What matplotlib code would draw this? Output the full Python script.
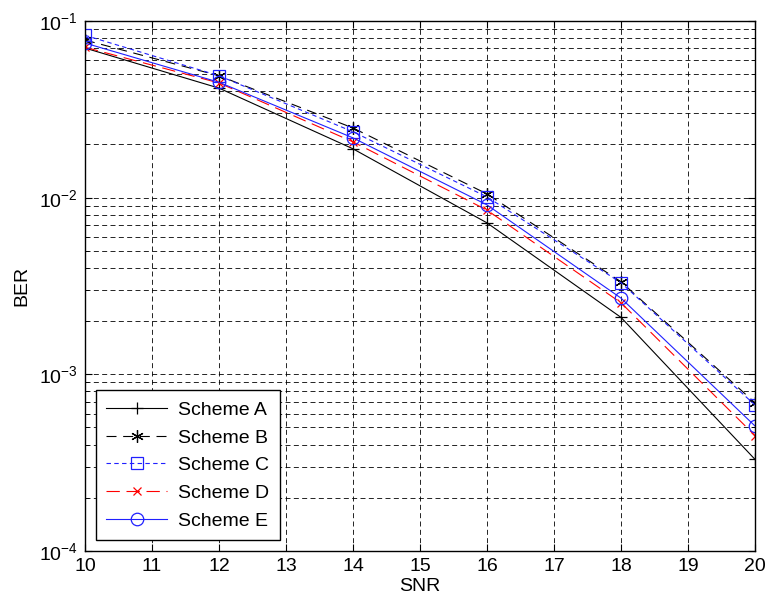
import numpy as np
import matplotlib.pyplot as plt
from matplotlib.ticker import LogLocator, NullFormatter

plt.rcParams['font.family'] = ['Liberation Sans', 'DejaVu Sans']

snr = [10, 12, 14, 16, 18, 20]
ber_a = [0.0703, 0.0417, 0.0189, 0.0072, 0.0021, 0.00033]
ber_b = [0.078, 0.049, 0.0248, 0.0105, 0.00334, 0.00069]
ber_c = [0.083, 0.049, 0.0236, 0.0101, 0.0033, 0.00067]
ber_d = [0.071, 0.0446, 0.0207, 0.0085, 0.00254, 0.00045]
ber_e = [0.075, 0.045, 0.0218, 0.0091, 0.0027, 0.00051]
labels = ['Scheme A', 'Scheme B', 'Scheme C', 'Scheme D', 'Scheme E']

fig = plt.figure(figsize=(7.69, 6.0), dpi=100)
ax = fig.add_axes([0.1105, 0.0817, 0.8713, 0.8833])

ax.semilogy(snr, ber_a, color='black', ls='-', lw=0.8, marker='+', ms=9, mew=0.9, label=labels[0])
ax.semilogy(snr, ber_b, color='black', ls=(0, (9, 6)), lw=0.8, marker=(6, 2, 0), ms=9, mew=0.9,
            label=labels[1])
ax.semilogy(snr, ber_c, color='#2020ff', ls=(0, (4, 3)), lw=0.8, marker='s', ms=8.5, mew=0.9,
            mfc='none', label=labels[2])
ax.semilogy(snr, ber_d, color='red', ls=(0, (12, 6)), lw=0.8, marker='x', ms=6, mew=0.9,
            label=labels[3])
ax.semilogy(snr, ber_e, color='#2020ff', ls='-', lw=0.8, marker='o', ms=9, mew=0.9,
            mfc='none', label=labels[4])

ax.set_xlim(10, 20)
ax.set_ylim(1e-4, 1e-1)
ax.set_xticks(range(10, 21))
ax.yaxis.set_major_locator(LogLocator(base=10, numticks=10))
ax.yaxis.set_minor_locator(LogLocator(base=10, subs=np.arange(2, 10), numticks=20))
ax.yaxis.set_minor_formatter(NullFormatter())

ax.grid(True, which='major', color='black', ls=(0, (6, 4)), lw=0.6)
ax.grid(True, which='minor', axis='y', color='black', ls=(0, (6, 4)), lw=0.6)
ax.tick_params(which='both', direction='in', top=True, right=True, labelsize=14, pad=5)
ax.tick_params(which='major', length=5)
ax.tick_params(which='minor', length=3)
for s in ax.spines.values():
    s.set_linewidth(1.0)

ax.set_xlabel('SNR', fontsize=14, labelpad=2)
ax.set_ylabel('BER', fontsize=14, labelpad=6)

leg = ax.legend(loc='lower left', bbox_to_anchor=(0.016, 0.02), fontsize=14, numpoints=1,
                handlelength=3.1, fancybox=False, framealpha=1, edgecolor='black',
                borderpad=0.55, labelspacing=0.52, handletextpad=0.6, borderaxespad=0)
leg.get_frame().set_linewidth(1.0)

fig.savefig('out.png', dpi=100)
